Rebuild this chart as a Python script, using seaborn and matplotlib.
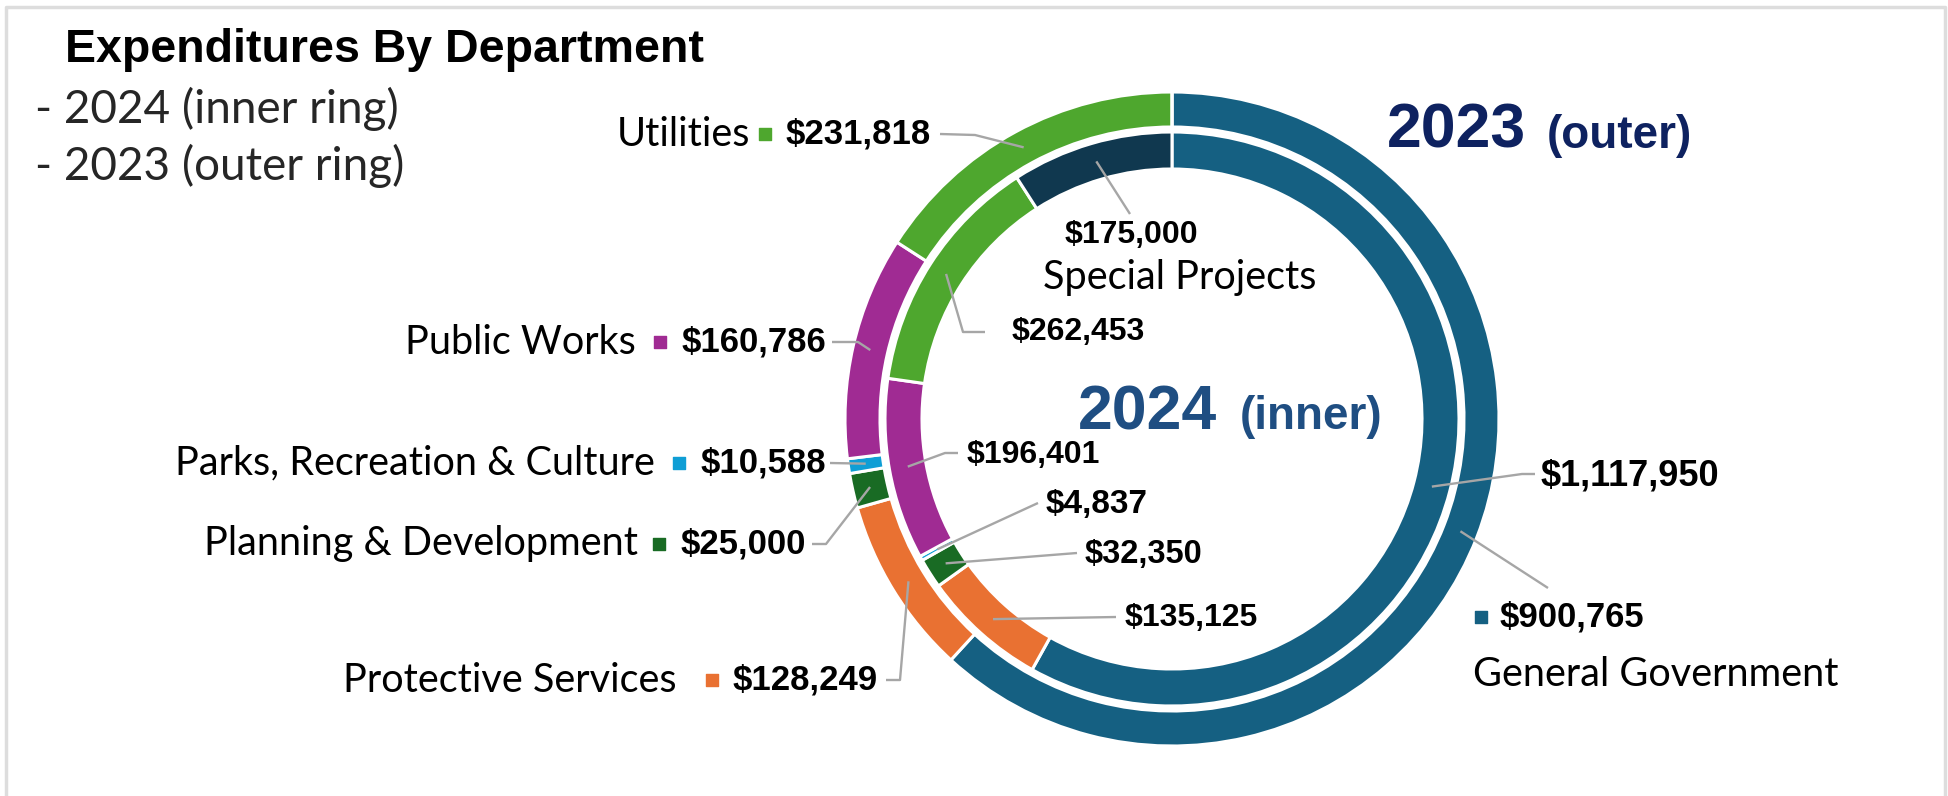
import numpy as np
import matplotlib
matplotlib.use("Agg")
import matplotlib.pyplot as plt
import seaborn as sns

# departments in drawing order (clockwise from 12 o'clock)
departments = [
    "General Government",
    "Protective Services",
    "Planning & Development",
    "Parks, Recreation & Culture",
    "Public Works",
    "Utilities",
    "Special Projects",
]
values_2023 = [900765, 128249, 25000, 10588, 160786, 231818, 0]
values_2024 = [1117950, 135125, 32350, 4837, 196401, 262453, 175000]
colors = ["#156082", "#E97132", "#196B24", "#0F9ED5", "#A02B93", "#4EA72E", "#10384F"]

W, H = 1949, 796
CX, CY = 1172, 419
R_OUT, W_OUT = 327, 35
R_IN, W_IN = 287, 37

sns.set_theme(style="white")
plt.rcParams["font.family"] = ["Liberation Sans", "DejaVu Sans"]
NAME_FONT = ["Lato", "DejaVu Sans"]
GREY = "#A6A6A6"

fig = plt.figure(figsize=(W / 100, H / 100), dpi=100)
ax = fig.add_axes([0, 0, 1, 1])
palette = sns.color_palette(colors)

# y axis inverted so that pixel positions read top-down; pies then run clockwise
ax.pie(values_2023, radius=R_OUT, center=(CX, CY), startangle=-90, counterclock=True,
       colors=palette, wedgeprops=dict(width=W_OUT, edgecolor="white", linewidth=2.2))
ax.pie(values_2024, radius=R_IN, center=(CX, CY), startangle=-90, counterclock=True,
       colors=palette, wedgeprops=dict(width=W_IN, edgecolor="white", linewidth=2.2))
ax.set_xlim(0, W)
ax.set_ylim(H, 0)
ax.set_aspect("auto")
ax.axis("off")


def anchor(vals, i, r_outer, width):
    """Mid point of wedge i (pixel coords)."""
    tot = sum(vals)
    start = sum(vals[:i]) / tot * 360
    mid = np.deg2rad(start + vals[i] / tot * 180)
    r = r_outer - width / 2
    return CX + r * np.sin(mid), CY - r * np.cos(mid)


def leader(pt, path):
    xs = [pt[0]] + [p[0] for p in path]
    ys = [pt[1]] + [p[1] for p in path]
    ax.plot(xs, ys, color=GREY, lw=1.7, solid_capstyle="butt", zorder=1)


def money(v):
    return f"${v:,}"


VAL_KW = dict(fontweight="bold", color="black", va="center")
NAME_KW = dict(fontsize=28.5, family=NAME_FONT, color="black", va="center")

# left-side labels for the outer ring (2023): name, marker, value, leader path
left_labels = {
    5: (750, 134, 765, 786, [(975, 135), (940, 134)]),
    4: (636, 342, 660, 682, [(858, 342), (832, 342)]),
    3: (655, 463, 679, 701, [(830, 463)]),
    2: (638, 544, 659, 681, [(826, 544), (812, 544)]),
    1: (677, 680, 712, 733, [(900, 680), (886, 680)]),
}
for i, (nx, y, mx, vx, path) in left_labels.items():
    ax.text(nx, y, departments[i], ha="right", **NAME_KW)
    ax.scatter([mx], [y], marker="s", s=75, color=palette[i], zorder=3)
    ax.text(vx, y, money(values_2023[i]), ha="left", fontsize=25, **VAL_KW)
    leader(anchor(values_2023, i, R_OUT, W_OUT), path)

# General Government (outer)
ax.scatter([1481], [617], marker="s", s=75, color=palette[0], zorder=3)
ax.text(1500, 617, money(values_2023[0]), ha="left", fontsize=25, **VAL_KW)
ax.text(1473, 675, departments[0], ha="left", **NAME_KW)
leader(anchor(values_2023, 0, R_OUT, W_OUT), [(1548, 588)])

# inner ring (2024) value labels
inner_labels = {
    0: (1541, 476, 26, [(1522, 474), (1535, 474)]),
    1: (1125, 618, 23, [(1116, 617)]),
    2: (1085, 555, 23.5, [(1077, 553)]),
    3: (1046, 505, 24, [(1038, 503)]),
    4: (967, 455, 23, [(945, 453), (958, 453)]),
    5: (1012, 332, 23, [(963, 332), (985, 332)]),
}
for i, (x, y, fs, path) in inner_labels.items():
    ax.text(x, y, money(values_2024[i]), ha="left", fontsize=fs, **VAL_KW)
    leader(anchor(values_2024, i, R_IN, W_IN), path)

ax.text(1131, 235, money(values_2024[6]), ha="center", fontsize=23, **VAL_KW)
ax.text(1180, 277, departments[6], ha="center", **NAME_KW)
leader(anchor(values_2024, 6, R_IN, W_IN), [(1130, 214)])

# ring captions
ax.text(1387, 148, "2023", fontsize=45, fontweight="bold", color="#0E2260", va="baseline")
ax.text(1547, 148, "(outer)", fontsize=33, fontweight="bold", color="#0E2260", va="baseline")
ax.text(1078, 429, "2024", fontsize=45, fontweight="bold", color="#1F4E82", va="baseline")
ax.text(1240, 429, "(inner)", fontsize=33, fontweight="bold", color="#1F4E82", va="baseline")

# title block
ax.text(65, 50, "Expenditures By Department", fontsize=33.5, fontweight="bold",
        color="black", va="center")
ax.text(35, 109, "- 2024 (inner ring)", fontsize=33, family=NAME_FONT, va="center")
ax.text(35, 166, "- 2023 (outer ring)", fontsize=33, family=NAME_FONT, va="center")

# chart frame
ax.plot([6, 6, W - 4, W - 4], [H, 7, 7, H], color="#DDDDDD", lw=2.5, zorder=0)

fig.savefig("out.png", dpi=100, facecolor="white")
